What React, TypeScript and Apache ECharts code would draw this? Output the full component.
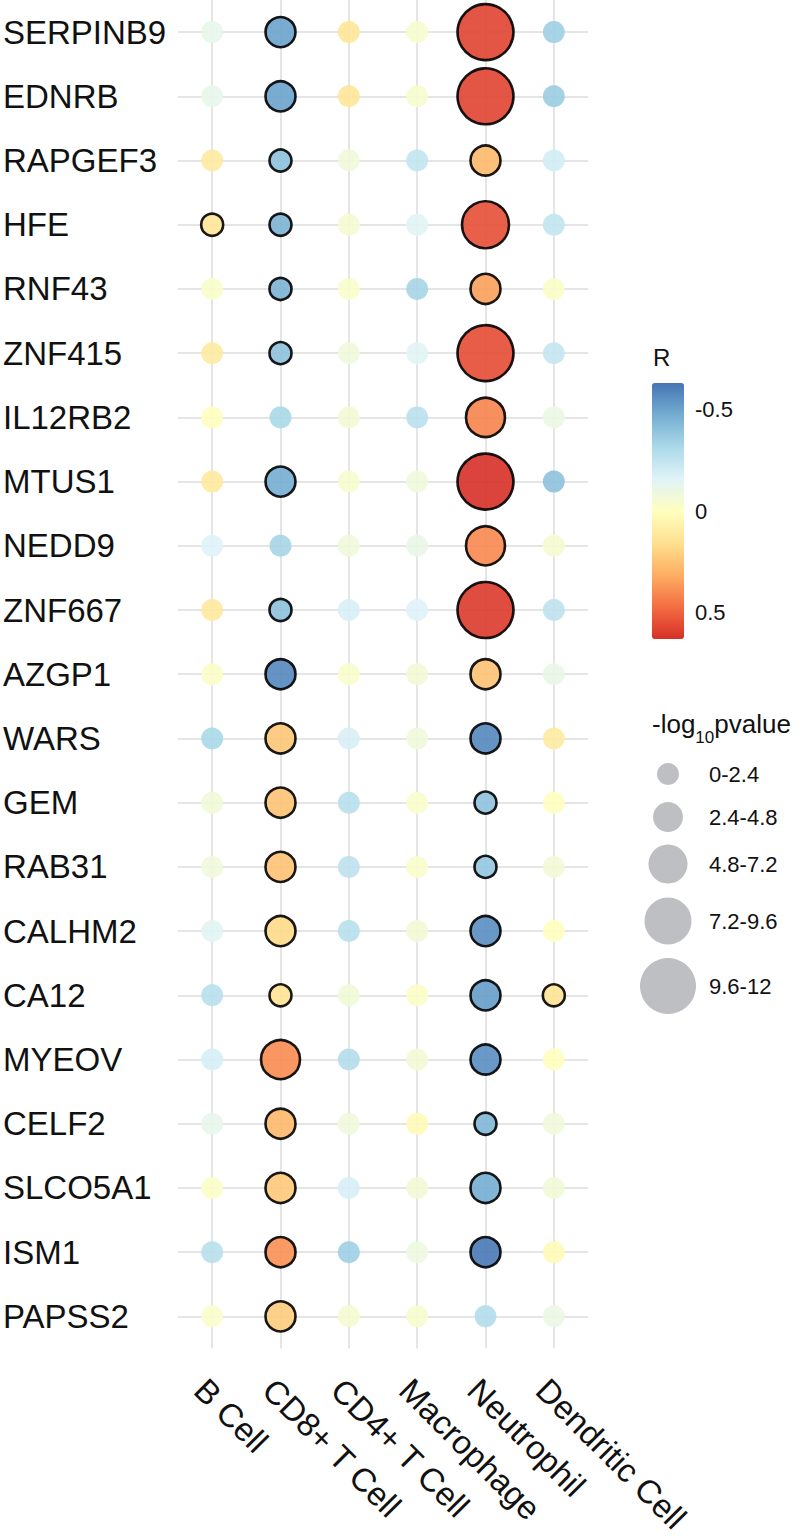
import React, { useEffect, useRef } from "react";
import * as echarts from "echarts";

// ---------- data ----------
const genes = [
  "SERPINB9", "EDNRB", "RAPGEF3", "HFE", "RNF43", "ZNF415", "IL12RB2", "MTUS1",
  "NEDD9", "ZNF667", "AZGP1", "WARS", "GEM", "RAB31", "CALHM2", "CA12",
  "MYEOV", "CELF2", "SLCO5A1", "ISM1", "PAPSS2",
];
const cellTypes = ["B Cell", "CD8+ T Cell", "CD4+ T Cell", "Macrophage", "Neutrophil", "Dendritic Cell"];

// correlation R (rows in gene order)
const rBCell = [-0.12, -0.12, 0.1, 0.13, -0.03, 0.1, 0.0, 0.11, -0.16, 0.11, -0.02, -0.32, -0.07, -0.08, -0.15, -0.28, -0.19, -0.12, -0.02, -0.28, -0.03];
const rCD8 = [-0.5, -0.5, -0.4, -0.45, -0.45, -0.4, -0.32, -0.47, -0.33, -0.4, -0.58, 0.24, 0.25, 0.25, 0.18, 0.14, 0.4, 0.28, 0.23, 0.39, 0.22];
const rCD4 = [0.13, 0.13, -0.08, -0.05, -0.03, -0.08, -0.06, -0.04, -0.08, -0.18, -0.03, -0.18, -0.28, -0.26, -0.28, -0.07, -0.29, -0.08, -0.18, -0.35, -0.05];
const rMacro = [-0.04, -0.04, -0.25, -0.15, -0.33, -0.15, -0.27, -0.08, -0.11, -0.16, -0.06, -0.08, -0.03, -0.03, -0.06, -0.02, -0.06, 0.03, -0.06, -0.09, -0.04];
const rNeutro = [0.58, 0.58, 0.28, 0.55, 0.35, 0.56, 0.42, 0.63, 0.41, 0.61, 0.25, -0.58, -0.4, -0.38, -0.56, -0.52, -0.56, -0.44, -0.47, -0.62, -0.29];
const rDendri = [-0.35, -0.36, -0.2, -0.25, -0.02, -0.24, -0.1, -0.4, -0.05, -0.26, -0.11, 0.1, 0.0, -0.06, 0.0, 0.14, 0.0, -0.08, -0.07, 0.03, -0.1];

// -log10 p-value (rows in gene order)
const pBCell = [0.6, 0.6, 0.5, 1.6, 0.2, 0.5, 0.1, 0.6, 0.8, 0.5, 0.2, 1.2, 0.4, 0.4, 0.8, 1.1, 0.9, 0.6, 0.2, 1.1, 0.2];
const pCD8 = [3.6, 3.7, 2.0, 2.1, 2.0, 1.9, 1.1, 3.4, 1.0, 1.8, 3.9, 3.2, 3.5, 3.4, 3.0, 1.8, 5.2, 3.1, 2.9, 2.8, 3.0];
const pCD4 = [0.6, 0.6, 0.4, 0.3, 0.2, 0.4, 0.3, 0.2, 0.4, 0.8, 0.2, 0.8, 1.1, 1.0, 1.1, 0.4, 1.1, 0.4, 0.8, 1.2, 0.3];
const pMacro = [0.2, 0.2, 1.0, 0.7, 1.2, 0.7, 1.0, 0.4, 0.5, 0.7, 0.3, 0.4, 0.2, 0.2, 0.3, 0.1, 0.3, 0.2, 0.3, 0.4, 0.2];
const pNeutro = [10.8, 11.2, 3.3, 8.6, 3.9, 10.5, 6.0, 11.8, 5.8, 11.0, 3.1, 4.5, 2.0, 1.9, 4.3, 4.0, 4.2, 1.9, 3.8, 4.6, 1.1];
const pDendri = [1.2, 1.2, 0.8, 1.0, 0.1, 0.9, 0.4, 1.2, 0.2, 1.0, 0.5, 0.4, 0.0, 0.3, 0.0, 1.7, 0.0, 0.3, 0.3, 0.1, 0.4];

// legend scales
const rMin = -0.63;
const rMax = 0.63;
const rTicks = [-0.5, 0, 0.5];
const sizeBreaks = [0, 2.4, 4.8, 7.2, 9.6, 12];
const sigThreshold = 1.30103; // p < 0.05

// ---------- styles ----------
const FONT = '"Liberation Sans", Arial, Helvetica, sans-serif';
const TEXT = "#111111";
const GRID = "#DDDDDD";
const palette = ["#4575B4", "#74ADD1", "#ABD9E9", "#E0F3F8", "#FFFFBF", "#FEE090", "#FDAE61", "#F46D43", "#D73027"];
const binDiam = [22, 30, 39, 47, 56];

function binOf(v: number) {
  for (let i = 1; i < sizeBreaks.length; i++) if (v < sizeBreaks[i]) return i - 1;
  return binDiam.length - 1;
}

export default function App() {
  const ref = useRef<HTMLDivElement>(null);

  useEffect(() => {
    const chart = echarts.init(ref.current!, null, { renderer: "svg" });
    const rCols = [rBCell, rCD8, rCD4, rMacro, rNeutro, rDendri];
    const pCols = [pBCell, pCD8, pCD4, pMacro, pNeutro, pDendri];
    const sig: number[][] = [];
    const nonsig: number[][] = [];
    rCols.forEach((col, ci) =>
      col.forEach((r, gi) => {
        const lp = pCols[ci][gi];
        (lp > sigThreshold ? sig : nonsig).push([ci, gi, r, lp]);
      })
    );
    const symbolSize = (val: number[]) => binDiam[binOf(val[3])];

    // color bar geometry
    const barLeft = 652, barTop = 383, barW = 32, barH = 256;
    const rToY = (v: number) => barTop + ((v - rMin) / (rMax - rMin)) * barH;

    // measure text for the subscript title
    const ctx = document.createElement("canvas").getContext("2d")!;
    const titleSize = 26, subSize = 17;
    ctx.font = `${titleSize}px "Liberation Sans"`;
    const wLog = ctx.measureText("-log").width;
    ctx.font = `${subSize}px "Liberation Sans"`;
    const wSub = ctx.measureText("10").width;
    const titleX = 652, titleMid = 724;

    const sizeCx = 668;
    const sizeCy = [774, 817, 864, 921, 986];
    const sizeLabels = binDiam.map((_, i) => `${sizeBreaks[i]}-${sizeBreaks[i + 1]}`);

    const graphic: any[] = [
      { type: "text", x: 653, y: 357, style: { text: "R", fontSize: 24, fontFamily: FONT, fill: TEXT, align: "left", verticalAlign: "middle" } },
      ...rTicks.map((t) => ({
        type: "text", x: 695, y: rToY(t),
        style: { text: String(t), fontSize: 22, fontFamily: FONT, fill: TEXT, align: "left", verticalAlign: "middle" },
      })),
      { type: "text", x: titleX, y: titleMid, style: { text: "-log", fontSize: titleSize, fontFamily: FONT, fill: TEXT, align: "left", verticalAlign: "middle" } },
      { type: "text", x: titleX + wLog, y: titleMid + 13, style: { text: "10", fontSize: subSize, fontFamily: FONT, fill: TEXT, align: "left", verticalAlign: "middle" } },
      { type: "text", x: titleX + wLog + wSub, y: titleMid, style: { text: "pvalue", fontSize: titleSize, fontFamily: FONT, fill: TEXT, align: "left", verticalAlign: "middle" } },
      ...binDiam.map((d, i) => ({
        type: "circle", shape: { cx: sizeCx, cy: sizeCy[i], r: d / 2 }, style: { fill: "#BEBFC3" },
      })),
      ...sizeLabels.map((s, i) => ({
        type: "text", x: 709, y: sizeCy[i],
        style: { text: s, fontSize: 22, fontFamily: FONT, fill: TEXT, align: "left", verticalAlign: "middle" },
      })),
    ];

    chart.setOption({
      animation: false,
      backgroundColor: "#ffffff",
      grid: { left: 175, width: 413, top: -1, height: 1351, containLabel: false },
      xAxis: {
        type: "category",
        data: cellTypes,
        boundaryGap: true,
        axisLine: { show: false },
        axisTick: { show: false },
        splitLine: { show: true, interval: 0, alignWithLabel: true, lineStyle: { color: GRID, width: 1.5 } },
        axisLabel: {
          interval: 0, rotate: -45, margin: 48, fontSize: 33, color: TEXT, fontFamily: FONT,
          padding: [0, 0, 0, -17],
        },
      },
      yAxis: {
        type: "category",
        data: genes,
        inverse: true,
        boundaryGap: true,
        axisLine: { show: false },
        axisTick: { show: false },
        splitLine: { show: true, interval: 0, alignWithLabel: true, lineStyle: { color: GRID, width: 1.5 } },
        axisLabel: { interval: 0, align: "left", margin: 175, fontSize: 33, color: TEXT, fontFamily: FONT },
      },
      visualMap: {
        type: "continuous",
        min: rMin,
        max: rMax,
        dimension: 2,
        seriesIndex: [0, 1],
        inverse: true,
        orient: "vertical",
        left: barLeft,
        top: barTop,
        itemWidth: barW,
        itemHeight: barH,
        padding: 0,
        calculable: false,
        hoverLink: false,
        showLabel: false,
        inRange: { color: palette },
      },
      series: [
        { type: "scatter", data: nonsig, symbolSize, itemStyle: { borderWidth: 0, opacity: 0.9 }, z: 2 },
        { type: "scatter", data: sig, symbolSize, itemStyle: { borderColor: "#000000", borderWidth: 2.6, opacity: 0.9 }, z: 3 },
      ],
      graphic,
    });
    return () => chart.dispose();
  }, []);

  return <div ref={ref} style={{ position: "absolute", left: 0, top: 0, width: 800, height: 1537 }} />;
}
